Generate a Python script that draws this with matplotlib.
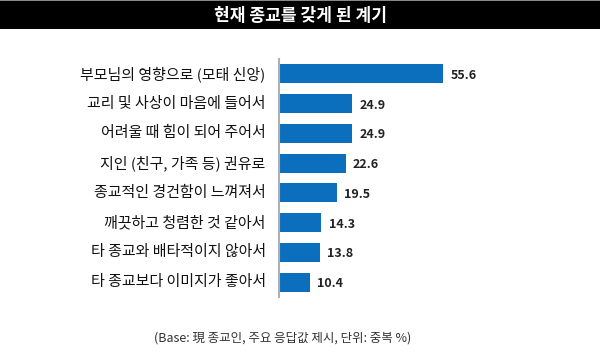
import matplotlib
matplotlib.use('Agg')
import matplotlib.pyplot as plt
from matplotlib.patches import Rectangle

plt.rcParams['font.family'] = ['Noto Sans CJK KR', 'DejaVu Sans']

# chart data
title = '현재 종교를 갖게 된 계기'
labels = ['부모님의 영향으로 (모태 신앙)', '교리 및 사상이 마음에 들어서', '어려울 때 힘이 되어 주어서',
          '지인 (친구, 가족 등) 권유로', '종교적인 경건함이 느껴져서', '깨끗하고 청렴한 것 같아서',
          '타 종교와 배타적이지 않아서', '타 종교보다 이미지가 좋아서']
values = [55.6, 24.9, 24.9, 22.6, 19.5, 14.3, 13.8, 10.4]
footnote = '(Base: 現 종교인, 주요 응답값 제시, 단위: 중복 %)'

fig = plt.figure(figsize=(6, 3.54), dpi=100)

# black title band with thin grey top border
fig.add_artist(Rectangle((0, 1 - 29 / 354), 1, 28 / 354, transform=fig.transFigure,
                         facecolor='black', edgecolor='none'))
fig.add_artist(Rectangle((0, 1 - 1 / 354), 1, 1 / 354, transform=fig.transFigure,
                         facecolor='#888888', edgecolor='none'))
fig.text(0.5, 1 - 16 / 354, title, color='white', fontsize=12.3, fontweight='bold',
         ha='center', va='center')

ax = fig.add_axes([279 / 600, 1 - 297 / 354, 321 / 600, 238 / 354])
ypos = list(range(len(values)))
ax.barh(ypos, values, height=0.64, color='#0B6FBE')
ax.set_xlim(0, 321 / 2.95)
ax.set_ylim(len(values) - 0.5, -0.5)

for y, v, lab in zip(ypos, values, labels):
    ax.text(v + 2.5, y + 0.05, f'{v:.1f}', va='center', ha='left', fontsize=9,
            fontweight='bold', color='#222222')
    ax.text(-4.5, y, lab, va='center', ha='right', fontsize=10.8, color='#111111')

for s in ['top', 'right', 'bottom']:
    ax.spines[s].set_visible(False)
ax.spines['left'].set_color('#b0b0b0')
ax.spines['left'].set_linewidth(1.5)
ax.set_xticks([])
ax.set_yticks([])

fig.text(283 / 600, 1 - 338 / 354, footnote, fontsize=9, color='#333333',
         ha='center', va='center')

plt.savefig('out.png', dpi=100)
